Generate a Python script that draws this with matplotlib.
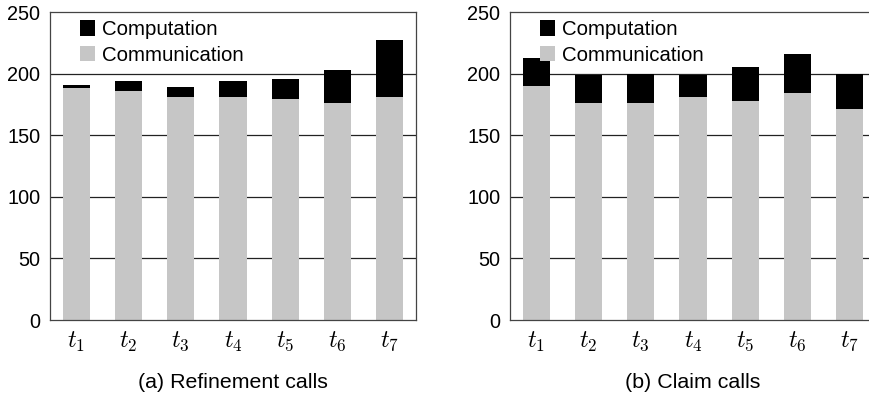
import matplotlib
matplotlib.use("Agg")
import matplotlib.pyplot as plt
from matplotlib.patches import Patch

plt.rcParams['font.family'] = ['Liberation Sans', 'DejaVu Sans']
plt.rcParams['mathtext.fontset'] = 'cm'

tasks = [r'$t_1$', r'$t_2$', r'$t_3$', r'$t_4$', r'$t_5$', r'$t_6$', r'$t_7$']
refine_comm = [188, 186, 181, 181, 179, 176, 181]
refine_total = [191, 194, 189, 194, 196, 203, 227]
claim_comm = [190, 176, 176, 181, 178, 184, 171]
claim_total = [213, 199, 200, 199, 205, 216, 200]
captions = ['(a) Refinement calls', '(b) Claim calls']
yticks = [0, 50, 100, 150, 200, 250]

W, H = 869, 399
fig = plt.figure(figsize=(W / 100, H / 100), dpi=100)

GRAY = '#c6c6c6'
panels = [(refine_comm, refine_total, 50), (claim_comm, claim_total, 510)]
for i, (comm, total, x0) in enumerate(panels):
    ax = fig.add_axes([x0 / W, (H - 320) / H, 366 / W, 308 / H])
    x = list(range(len(tasks)))
    comp = [t - c for t, c in zip(total, comm)]
    ax.bar(x, comm, width=0.52, color=GRAY, zorder=2)
    ax.bar(x, comp, bottom=comm, width=0.52, color='black', zorder=2)
    ax.set_xlim(-0.5, 6.5)
    ax.set_ylim(0, 250)
    ax.set_yticks(yticks)
    ax.set_xticks(x)
    ax.set_xticklabels(tasks, fontsize=17.5)
    ax.tick_params(axis='y', length=0, pad=7, labelsize=14.3)
    ax.tick_params(axis='x', length=0, pad=7)
    for y in [50, 100, 150, 200]:
        ax.axhline(y, color='#222222', lw=0.9, zorder=1)
    for s in ax.spines.values():
        s.set_color('#444444')
        s.set_linewidth(0.9)
    handles = [Patch(facecolor='black', edgecolor='none', label='Computation'),
               Patch(facecolor=GRAY, edgecolor='none', label='Communication')]
    ax.legend(handles=handles, loc='upper left',
              bbox_to_anchor=(30 / 366, (320 - 20) / 308),
              frameon=False, fontsize=14.7, handlelength=0.75, handleheight=0.8,
              handletextpad=0.35, labelspacing=0.32, borderaxespad=0, borderpad=0)
    cx = (x0 + 366 / 2) / W
    fig.text(cx, 1 - 383 / H, captions[i], ha='center', va='center', fontsize=15.4)

fig.savefig('out.png', dpi=100)
